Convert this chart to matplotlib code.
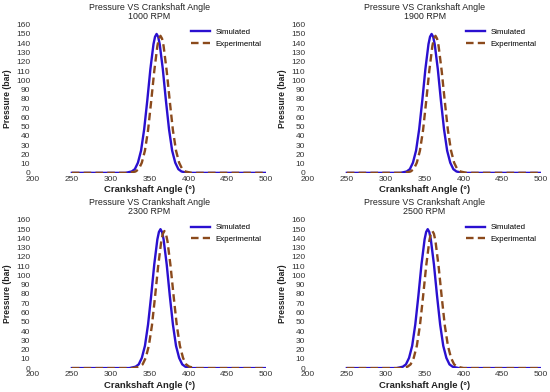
import matplotlib
matplotlib.use("Agg")
import matplotlib.pyplot as plt

plt.rcParams['font.family'] = ['Liberation Sans', 'DejaVu Sans']

rpm_labels = ["1000 RPM", "1900 RPM", "2300 RPM", "2500 RPM"]

# Simulated curves (angle in deg, pressure in bar)
sim_angle = [
    [250, 319, 327, 331, 335, 339, 343, 347, 351, 355, 357, 359, 361, 363, 367, 371, 375, 379, 383, 387, 391, 399, 500],
    [250, 319, 327, 331, 335, 339, 343, 347, 351, 355, 357, 359, 361, 363, 367, 371, 375, 379, 383, 387, 391, 399, 500],
    [250, 324, 332, 336, 340, 344, 348, 352, 356, 360, 362, 364, 366, 368, 372, 376, 380, 384, 388, 392, 396, 404, 500],
    [250, 314, 322, 326, 330, 334, 338, 342, 346, 350, 352, 354, 356, 358, 362, 366, 370, 374, 378, 382, 386, 394, 500],
]
sim_p = [
    [0, 0, 1.5, 4, 11, 24, 47, 78, 112, 139, 147, 150, 147, 139, 112, 78, 47, 24, 11, 4, 1.5, 0, 0],
    [0, 0, 1.5, 4, 11, 24, 47, 78, 112, 139, 147, 150, 147, 139, 112, 78, 47, 24, 11, 4, 1.5, 0, 0],
    [0, 0, 1.5, 4, 11, 24, 47, 78, 112, 139, 147, 150, 147, 139, 112, 78, 47, 24, 11, 4, 1.5, 0, 0],
    [0, 0, 1.5, 4, 11, 24, 47, 78, 112, 139, 147, 150, 147, 139, 112, 78, 47, 24, 11, 4, 1.5, 0, 0],
]

# Experimental curves
exp_angle = [
    [250, 324, 332, 336, 340, 344, 348, 352, 356, 360, 362, 364, 366, 368, 372, 376, 380, 384, 388, 392, 396, 404, 500],
    [250, 324, 332, 336, 340, 344, 348, 352, 356, 360, 362, 364, 366, 368, 372, 376, 380, 384, 388, 392, 396, 404, 500],
    [250, 329, 337, 341, 345, 349, 353, 357, 361, 365, 367, 369, 371, 373, 377, 381, 385, 389, 393, 397, 401, 409, 500],
    [250, 320, 328, 332, 336, 340, 344, 348, 352, 356, 358, 360, 362, 364, 368, 372, 376, 380, 384, 388, 392, 400, 500],
]
exp_p = [
    [0, 0, 1.5, 4, 11, 24, 46, 77, 110, 137, 145, 148, 145, 137, 110, 77, 46, 24, 11, 4, 1.5, 0, 0],
    [0, 0, 1.5, 4, 11, 24, 46, 77, 110, 137, 145, 148, 145, 137, 110, 77, 46, 24, 11, 4, 1.5, 0, 0],
    [0, 0, 1.5, 4, 11, 24, 46, 77, 110, 137, 145, 148, 145, 137, 110, 77, 46, 24, 11, 4, 1.5, 0, 0],
    [0, 0, 1.5, 4, 11, 24, 46, 77, 110, 137, 145, 148, 145, 137, 110, 77, 46, 24, 11, 4, 1.5, 0, 0],
]

x_ticks = [200, 250, 300, 350, 400, 450, 500]
y_ticks = list(range(0, 161, 10))

fig = plt.figure(figsize=(5.5, 3.92), dpi=100)
positions = [
    [0.060, 0.559, 0.424, 0.378],
    [0.560, 0.559, 0.424, 0.378],
    [0.060, 0.061, 0.424, 0.378],
    [0.560, 0.061, 0.424, 0.378],
]

for i in range(4):
    ax = fig.add_axes(positions[i])
    ax.plot(sim_angle[i], sim_p[i], color="#2a10d0", lw=1.7, label="Simulated")
    ax.plot(exp_angle[i], exp_p[i], color="#8b4a1c", lw=1.7, ls=(0, (3.2, 1.8)), label="Experimental")
    ax.set_xlim(200, 500)
    ax.set_ylim(0, 160)
    ax.set_xticks(x_ticks)
    ax.set_yticks(y_ticks)
    for s in ax.spines.values():
        s.set_visible(False)
    ax.tick_params(length=0, labelsize=6.0, labelcolor="#333333", pad=2)
    ax.set_title("Pressure VS Crankshaft Angle\n" + rpm_labels[i], fontsize=6.4,
                 color="#222222", pad=4, linespacing=1.05)
    ax.set_xlabel("Crankshaft Angle (°)", fontsize=6.8, fontweight="bold", color="#222222", labelpad=2)
    ax.set_ylabel("Pressure (bar)", fontsize=6.2, fontweight="bold", color="#222222", labelpad=3)
    ax.legend(loc="upper right", frameon=False, fontsize=5.7, handlelength=2.4,
              borderaxespad=0.0, labelspacing=0.55, handletextpad=0.8,
              bbox_to_anchor=(0.995, 0.995))

fig.savefig("out.png", dpi=100)
